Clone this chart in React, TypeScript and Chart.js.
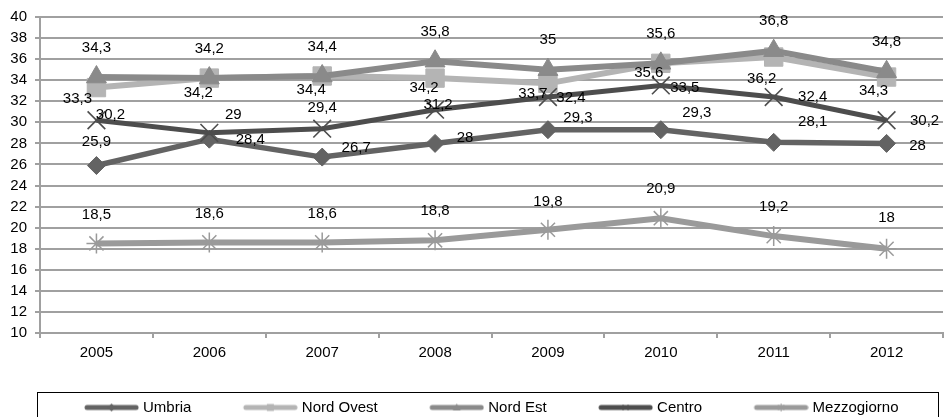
import React, { useEffect, useRef } from 'react';
import { Chart, registerables } from 'chart.js';

Chart.register(...registerables);

// ---- data ----
const years = ['2005', '2006', '2007', '2008', '2009', '2010', '2011', '2012'];
const umbria = [25.9, 28.4, 26.7, 28, 29.3, 29.3, 28.1, 28];
const nordOvest = [33.3, 34.2, 34.4, 34.2, 33.7, 35.6, 36.2, 34.3];
const nordEst = [34.3, 34.2, 34.4, 35.8, 35, 35.6, 36.8, 34.8];
const centro = [30.2, 29, 29.4, 31.2, 32.4, 33.5, 32.4, 30.2];
const mezzogiorno = [18.5, 18.6, 18.6, 18.8, 19.8, 20.9, 19.2, 18];
const seriesNames = ['Umbria', 'Nord Ovest', 'Nord Est', 'Centro', 'Mezzogiorno'];
const yMin = 10;
const yMax = 40;
const yStep = 2;

// ---- styling (kept apart from data) ----
const FONT = '"Liberation Sans", Arial, Helvetica, sans-serif';
const GRID = '#a0a0a0';
const LEGEND_BOX = 91; // legend symbol box width
const ICON_W = 98; // icon canvas width (line sits at its right end)

type Style = {
  color: string;
  marker: string;
  radius: number;
  fill: string;
  border: string;
  borderW: number;
  lineW: number;
};

const styles: Style[] = [
  { color: '#636363', marker: 'rectRot', radius: 9, fill: '#636363', border: '#636363', borderW: 1, lineW: 5.5 },
  { color: '#b4b4b4', marker: 'rect', radius: 13, fill: '#b4b4b4', border: '#b4b4b4', borderW: 1, lineW: 6 },
  { color: '#8a8a8a', marker: 'triangle', radius: 11.5, fill: '#8a8a8a', border: '#8a8a8a', borderW: 1, lineW: 6 },
  { color: '#4d4d4d', marker: 'crossRot', radius: 12.5, fill: '#4d4d4d', border: '#4d4d4d', borderW: 1.6, lineW: 5 },
  { color: '#9a9a9a', marker: 'star', radius: 10, fill: '#9a9a9a', border: '#9a9a9a', borderW: 1.5, lineW: 6 },
];

// label offsets [dx, dy] relative to each point (presentation only)
const labelOffsets: number[][][] = [
  [[0, -24], [41, 1], [34, -9], [30, -6], [30, -12], [36, -17], [39, -20], [31, 2]],
  [[-19, 11], [-11, 15], [-11, 14], [-11, 10], [-15, 10], [-12, 10], [-12, 22], [-13, 14]],
  [[0, -29], [0, -29], [0, -29], [0, -29], [0, -30], [0, -29], [0, -30], [0, -30]],
  [[14, -5], [24, -18], [0, -21], [3, -5], [23, 1], [24, 2], [39, 0], [38, 1]],
  [[0, -29], [0, -29], [0, -29], [0, -29], [0, -28], [0, -29], [0, -29], [0, -31]],
];

function makeLegendIcon(s: Style): HTMLCanvasElement {
  const c = document.createElement('canvas');
  c.width = ICON_W;
  c.height = 14;
  const g = c.getContext('2d')!;
  const x0 = ICON_W - 52;
  const x1 = ICON_W - 3;
  g.strokeStyle = s.color;
  g.lineWidth = 5;
  g.lineCap = 'round';
  g.beginPath();
  g.moveTo(x0, 7);
  g.lineTo(x1, 7);
  g.stroke();
  const cx = (x0 + x1) / 2;
  const cy = 7;
  g.fillStyle = s.fill;
  g.strokeStyle = s.border;
  g.lineWidth = 1;
  g.lineCap = 'butt';
  g.beginPath();
  if (s.marker === 'rectRot') {
    g.moveTo(cx - 4, cy); g.lineTo(cx, cy - 4); g.lineTo(cx + 4, cy); g.lineTo(cx, cy + 4); g.closePath(); g.fill();
  } else if (s.marker === 'rect') {
    g.rect(cx - 3.5, cy - 3.5, 7, 7); g.fill();
  } else if (s.marker === 'triangle') {
    g.moveTo(cx, cy - 4); g.lineTo(cx + 4, cy + 3); g.lineTo(cx - 4, cy + 3); g.closePath(); g.fill();
  } else if (s.marker === 'crossRot') {
    g.moveTo(cx - 3, cy - 3); g.lineTo(cx + 3, cy + 3); g.moveTo(cx + 3, cy - 3); g.lineTo(cx - 3, cy + 3); g.stroke();
  } else {
    g.moveTo(cx - 3, cy - 3); g.lineTo(cx + 3, cy + 3); g.moveTo(cx + 3, cy - 3); g.lineTo(cx - 3, cy + 3);
    g.moveTo(cx, cy - 4); g.lineTo(cx, cy + 4); g.stroke();
  }
  return c;
}

const dataLabelPlugin = {
  id: 'dataLabels',
  afterDatasetsDraw(chart: any) {
    const ctx = chart.ctx;
    ctx.save();
    ctx.font = `15px ${FONT}`;
    ctx.fillStyle = '#000';
    ctx.textAlign = 'center';
    ctx.textBaseline = 'middle';
    chart.data.datasets.forEach((ds: any, i: number) => {
      const meta = chart.getDatasetMeta(i);
      meta.data.forEach((pt: any, j: number) => {
        const v = ds.data[j];
        const off = labelOffsets[i][j];
        ctx.fillText(String(v).replace('.', ','), pt.x + off[0], pt.y + off[1]);
      });
    });
    ctx.restore();
  },
};

const legendBoxPlugin = {
  id: 'legendBox',
  afterDraw(chart: any) {
    const lg = chart.legend;
    if (!lg) return;
    const ctx = chart.ctx;
    const textCenter = lg.top + lg.options.labels.padding + 7.5;
    ctx.save();
    ctx.strokeStyle = '#000';
    ctx.lineWidth = 1;
    ctx.strokeRect(37.5, Math.round(textCenter - 16) + 0.5, 901, 60);
    ctx.restore();
  },
};

export default function App() {
  const ref = useRef<HTMLCanvasElement | null>(null);

  useEffect(() => {
    document.body.style.margin = '0';
    document.body.style.overflow = 'hidden';
    const canvas = ref.current;
    if (!canvas) return;
    Chart.defaults.font.family = FONT;
    const series = [umbria, nordOvest, nordEst, centro, mezzogiorno];
    const icons = styles.map(makeLegendIcon);
    const datasets = series.map((d, i) => ({
      label: seriesNames[i],
      data: d,
      borderColor: styles[i].color,
      backgroundColor: styles[i].fill,
      borderWidth: styles[i].lineW,
      pointStyle: styles[i].marker,
      pointRadius: styles[i].radius,
      pointHoverRadius: styles[i].radius,
      pointBackgroundColor: styles[i].fill,
      pointBorderColor: styles[i].border,
      pointBorderWidth: styles[i].borderW,
      tension: 0,
      fill: false,
      clip: false,
      order: series.length - i,
    }));

    const chart = new Chart(canvas, {
      type: 'line',
      data: { labels: years, datasets },
      options: {
        animation: false,
        responsive: false,
        layout: { autoPadding: false, padding: { left: 0, right: 3, top: 17, bottom: 0 } },
        plugins: {
          tooltip: { enabled: false },
          legend: {
            position: 'bottom',
            align: 'center',
            labels: {
              usePointStyle: true,
              pointStyleWidth: LEGEND_BOX,
              padding: 12,
              color: '#000',
              font: { size: 15, family: FONT },
              generateLabels: () =>
                seriesNames.map((n, i) => ({
                  text: n,
                  pointStyle: icons[i] as any,
                  fillStyle: styles[i].color,
                  strokeStyle: styles[i].color,
                  lineWidth: 0,
                  hidden: false,
                  datasetIndex: i,
                  fontColor: '#000',
                })),
            },
          },
        },
        scales: {
          x: {
            type: 'category',
            offset: true,
            grid: {
              offset: true,
              drawOnChartArea: false,
              drawTicks: true,
              tickLength: 5,
              color: GRID,
              lineWidth: 2,
            },
            border: { color: GRID, width: 2 },
            ticks: { color: '#000', font: { size: 15, family: FONT }, padding: 6, maxRotation: 0 },
            afterFit: (s: any) => { s.height = 55; },
          },
          y: {
            min: yMin,
            max: yMax,
            grid: { color: GRID, lineWidth: 2, tickLength: 5, drawTicks: true },
            border: { color: GRID, width: 2 },
            ticks: { stepSize: yStep, color: '#000', font: { size: 15, family: FONT }, padding: 8 },
            afterFit: (s: any) => { s.width = 40; },
          },
        },
      },
      plugins: [dataLabelPlugin, legendBoxPlugin],
    } as any);
    return () => chart.destroy();
  }, []);

  return (
    <div style={{ width: 946, height: 425 }}>
      <canvas ref={ref} width={946} height={425} style={{ display: 'block' }} />
    </div>
  );
}
